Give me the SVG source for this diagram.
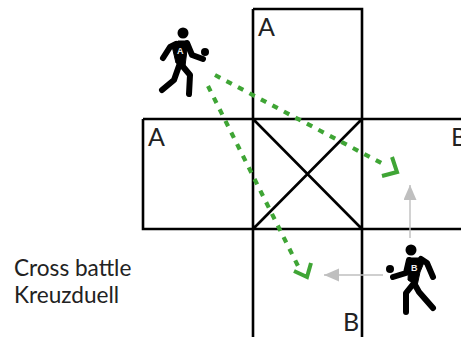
<svg xmlns="http://www.w3.org/2000/svg" width="461" height="337" viewBox="0 0 461 337">
<style>
.l{fill:none;stroke:#000;stroke-width:2.6}
.t{font-family:Lato,"Liberation Sans",sans-serif;fill:#222}
.c{font-size:25px}
.g{fill:none;stroke:#3fa535;stroke-width:4.2;stroke-dasharray:6 7}
.h{fill:none;stroke:#3fa535;stroke-width:4}
.a{stroke:#bfbfbf;stroke-width:1.4;fill:none}
.p{fill:none;stroke:#000;stroke-width:6;stroke-linecap:round;stroke-linejoin:round}
.w{font-family:"Liberation Sans",sans-serif;font-size:9px;font-weight:bold;fill:#eee}
</style>
<defs><marker id="m" markerWidth="16" markerHeight="14" refX="15" refY="6.5" orient="auto" markerUnits="userSpaceOnUse"><path d="M0 0L15 6.5L0 13Z" fill="#bfbfbf"/></marker></defs>
<g id="court">
<path class="l" d="M253 9H362V337M253 9V337M143 119H461M143 119V229H461M253 119L362 229M362 119L253 229"/>
</g>
<g id="labels">
<text class="t c" x="258" y="36">A</text>
<text class="t c" x="148" y="146">A</text>
<text class="t c" x="451" y="146">B</text>
<text class="t c" x="343" y="331">B</text>
</g>
<g id="connectors">
<path class="g" d="M215 75L385 165"/>
<path class="h" d="M392 157L397 172L382 176"/>
<path class="g" d="M208 86L299 268"/>
<path class="h" d="M311 263L307 277L294 271"/>
<path class="a" d="M410 238V185" marker-end="url(#m)"/>
<path class="a" d="M383 275H324" marker-end="url(#m)"/>
</g>
<g id="player-a">
<circle cx="183" cy="33" r="5.5"/>
<circle cx="205" cy="52" r="4"/>
<path d="M172 46L178 41H188L187 50L185 66L176 63Z" stroke="#000" stroke-width="1"/>
<path class="p" d="M176 44L170 47L163 58M187 43L192 55L203 59M180 63L190 75L189 94M180 63L174 80L162 90"/>
<text class="w" x="177" y="54">A</text>
</g>
<g id="player-b">
<circle cx="411" cy="250" r="5.5"/>
<circle cx="390" cy="269" r="4"/>
<path d="M409 258H419L425 260L420 272L417 286L408 280Z" stroke="#000" stroke-width="1"/>
<path class="p" d="M409 260L406 273L393 277M421 259L427 263L433 277M414 283L406 293L406 312M414 283L419 292L433 308"/>
<text class="w" x="411" y="271">B</text>
</g>
<g id="caption">
<text class="t" x="14" y="276" font-size="22.6">Cross battle</text>
<text class="t" x="14" y="303" font-size="22.6">Kreuzduell</text>
</g>
</svg>
